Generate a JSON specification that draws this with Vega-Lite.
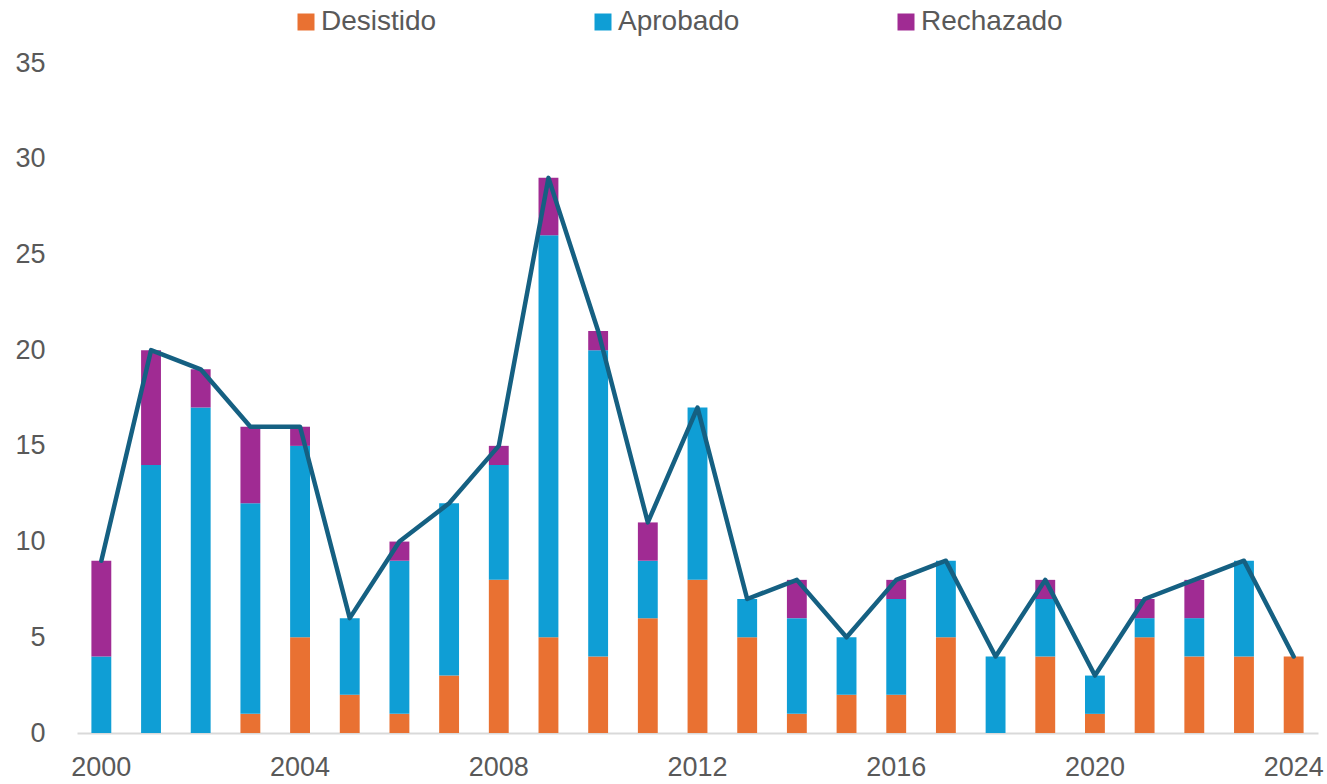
{
  "$schema": "https://vega.github.io/schema/vega-lite/v6.json",
  "width": 1241,
  "height": 670,
  "autosize": {"type": "none"},
  "padding": {"left": 77, "top": 63, "right": 9, "bottom": 51},
  "background": "white",
  "config": {
    "view": {"stroke": null},
    "font": "Liberation Sans",
    "axis": {"labelFont": "Liberation Sans", "labelColor": "#595959", "labelFontSize": 27},
    "legend": {"padding": 0}
  },
  "data": {
    "values": [
      {"anio": 2000, "estado": "Desistido", "orden": 1, "valor": 0}, {"anio": 2000, "estado": "Aprobado", "orden": 2, "valor": 4}, {"anio": 2000, "estado": "Rechazado", "orden": 3, "valor": 5},
      {"anio": 2001, "estado": "Desistido", "orden": 1, "valor": 0}, {"anio": 2001, "estado": "Aprobado", "orden": 2, "valor": 14}, {"anio": 2001, "estado": "Rechazado", "orden": 3, "valor": 6},
      {"anio": 2002, "estado": "Desistido", "orden": 1, "valor": 0}, {"anio": 2002, "estado": "Aprobado", "orden": 2, "valor": 17}, {"anio": 2002, "estado": "Rechazado", "orden": 3, "valor": 2},
      {"anio": 2003, "estado": "Desistido", "orden": 1, "valor": 1}, {"anio": 2003, "estado": "Aprobado", "orden": 2, "valor": 11}, {"anio": 2003, "estado": "Rechazado", "orden": 3, "valor": 4},
      {"anio": 2004, "estado": "Desistido", "orden": 1, "valor": 5}, {"anio": 2004, "estado": "Aprobado", "orden": 2, "valor": 10}, {"anio": 2004, "estado": "Rechazado", "orden": 3, "valor": 1},
      {"anio": 2005, "estado": "Desistido", "orden": 1, "valor": 2}, {"anio": 2005, "estado": "Aprobado", "orden": 2, "valor": 4}, {"anio": 2005, "estado": "Rechazado", "orden": 3, "valor": 0},
      {"anio": 2006, "estado": "Desistido", "orden": 1, "valor": 1}, {"anio": 2006, "estado": "Aprobado", "orden": 2, "valor": 8}, {"anio": 2006, "estado": "Rechazado", "orden": 3, "valor": 1},
      {"anio": 2007, "estado": "Desistido", "orden": 1, "valor": 3}, {"anio": 2007, "estado": "Aprobado", "orden": 2, "valor": 9}, {"anio": 2007, "estado": "Rechazado", "orden": 3, "valor": 0},
      {"anio": 2008, "estado": "Desistido", "orden": 1, "valor": 8}, {"anio": 2008, "estado": "Aprobado", "orden": 2, "valor": 6}, {"anio": 2008, "estado": "Rechazado", "orden": 3, "valor": 1},
      {"anio": 2009, "estado": "Desistido", "orden": 1, "valor": 5}, {"anio": 2009, "estado": "Aprobado", "orden": 2, "valor": 21}, {"anio": 2009, "estado": "Rechazado", "orden": 3, "valor": 3},
      {"anio": 2010, "estado": "Desistido", "orden": 1, "valor": 4}, {"anio": 2010, "estado": "Aprobado", "orden": 2, "valor": 16}, {"anio": 2010, "estado": "Rechazado", "orden": 3, "valor": 1},
      {"anio": 2011, "estado": "Desistido", "orden": 1, "valor": 6}, {"anio": 2011, "estado": "Aprobado", "orden": 2, "valor": 3}, {"anio": 2011, "estado": "Rechazado", "orden": 3, "valor": 2},
      {"anio": 2012, "estado": "Desistido", "orden": 1, "valor": 8}, {"anio": 2012, "estado": "Aprobado", "orden": 2, "valor": 9}, {"anio": 2012, "estado": "Rechazado", "orden": 3, "valor": 0},
      {"anio": 2013, "estado": "Desistido", "orden": 1, "valor": 5}, {"anio": 2013, "estado": "Aprobado", "orden": 2, "valor": 2}, {"anio": 2013, "estado": "Rechazado", "orden": 3, "valor": 0},
      {"anio": 2014, "estado": "Desistido", "orden": 1, "valor": 1}, {"anio": 2014, "estado": "Aprobado", "orden": 2, "valor": 5}, {"anio": 2014, "estado": "Rechazado", "orden": 3, "valor": 2},
      {"anio": 2015, "estado": "Desistido", "orden": 1, "valor": 2}, {"anio": 2015, "estado": "Aprobado", "orden": 2, "valor": 3}, {"anio": 2015, "estado": "Rechazado", "orden": 3, "valor": 0},
      {"anio": 2016, "estado": "Desistido", "orden": 1, "valor": 2}, {"anio": 2016, "estado": "Aprobado", "orden": 2, "valor": 5}, {"anio": 2016, "estado": "Rechazado", "orden": 3, "valor": 1},
      {"anio": 2017, "estado": "Desistido", "orden": 1, "valor": 5}, {"anio": 2017, "estado": "Aprobado", "orden": 2, "valor": 4}, {"anio": 2017, "estado": "Rechazado", "orden": 3, "valor": 0},
      {"anio": 2018, "estado": "Desistido", "orden": 1, "valor": 0}, {"anio": 2018, "estado": "Aprobado", "orden": 2, "valor": 4}, {"anio": 2018, "estado": "Rechazado", "orden": 3, "valor": 0},
      {"anio": 2019, "estado": "Desistido", "orden": 1, "valor": 4}, {"anio": 2019, "estado": "Aprobado", "orden": 2, "valor": 3}, {"anio": 2019, "estado": "Rechazado", "orden": 3, "valor": 1},
      {"anio": 2020, "estado": "Desistido", "orden": 1, "valor": 1}, {"anio": 2020, "estado": "Aprobado", "orden": 2, "valor": 2}, {"anio": 2020, "estado": "Rechazado", "orden": 3, "valor": 0},
      {"anio": 2021, "estado": "Desistido", "orden": 1, "valor": 5}, {"anio": 2021, "estado": "Aprobado", "orden": 2, "valor": 1}, {"anio": 2021, "estado": "Rechazado", "orden": 3, "valor": 1},
      {"anio": 2022, "estado": "Desistido", "orden": 1, "valor": 4}, {"anio": 2022, "estado": "Aprobado", "orden": 2, "valor": 2}, {"anio": 2022, "estado": "Rechazado", "orden": 3, "valor": 2},
      {"anio": 2023, "estado": "Desistido", "orden": 1, "valor": 4}, {"anio": 2023, "estado": "Aprobado", "orden": 2, "valor": 5}, {"anio": 2023, "estado": "Rechazado", "orden": 3, "valor": 0},
      {"anio": 2024, "estado": "Desistido", "orden": 1, "valor": 4}, {"anio": 2024, "estado": "Aprobado", "orden": 2, "valor": 0}, {"anio": 2024, "estado": "Rechazado", "orden": 3, "valor": 0}
    ]
  },
  "encoding": {
    "x": {
      "field": "anio",
      "type": "ordinal",
      "title": null,
      "scale": {"paddingInner": 0.6, "paddingOuter": 0.29, "align": 0.5},
      "axis": {
        "values": [2000, 2004, 2008, 2012, 2016, 2020, 2024],
        "labelAngle": 0,
        "ticks": false,
        "domainColor": "#d9d9d9",
        "domainWidth": 2,
        "labelPadding": 21,
        "grid": false
      }
    }
  },
  "layer": [
    {
      "mark": {"type": "bar"},
      "encoding": {
        "y": {
          "field": "valor",
          "type": "quantitative",
          "aggregate": "sum",
          "stack": "zero",
          "title": null,
          "scale": {"domain": [0, 35], "nice": false},
          "axis": {
            "values": [0, 5, 10, 15, 20, 25, 30, 35],
            "domain": false,
            "ticks": false,
            "grid": false,
            "labelPadding": 32
          }
        },
        "order": {"field": "orden", "type": "quantitative", "sort": "ascending"},
        "color": {
          "field": "estado",
          "type": "nominal",
          "sort": ["Desistido", "Aprobado", "Rechazado"],
          "scale": {
            "domain": ["Desistido", "Aprobado", "Rechazado"],
            "range": ["#E97132", "#0F9ED5", "#A02B93"]
          },
          "legend": {
            "title": null,
            "orient": "none",
            "direction": "horizontal",
            "legendX": 215,
            "legendY": -55,
            "symbolType": "square",
            "symbolSize": 289,
            "symbolStrokeWidth": 0,
            "labelFontSize": 28,
            "labelFont": "Liberation Sans",
            "labelColor": "#595959",
            "labelOffset": 1,
            "columnPadding": 152
          }
        }
      }
    },
    {
      "mark": {"type": "line", "color": "#156082", "strokeWidth": 4.5, "strokeCap": "round", "strokeJoin": "round"},
      "encoding": {
        "y": {"field": "valor", "type": "quantitative", "aggregate": "sum"}
      }
    }
  ]
}
